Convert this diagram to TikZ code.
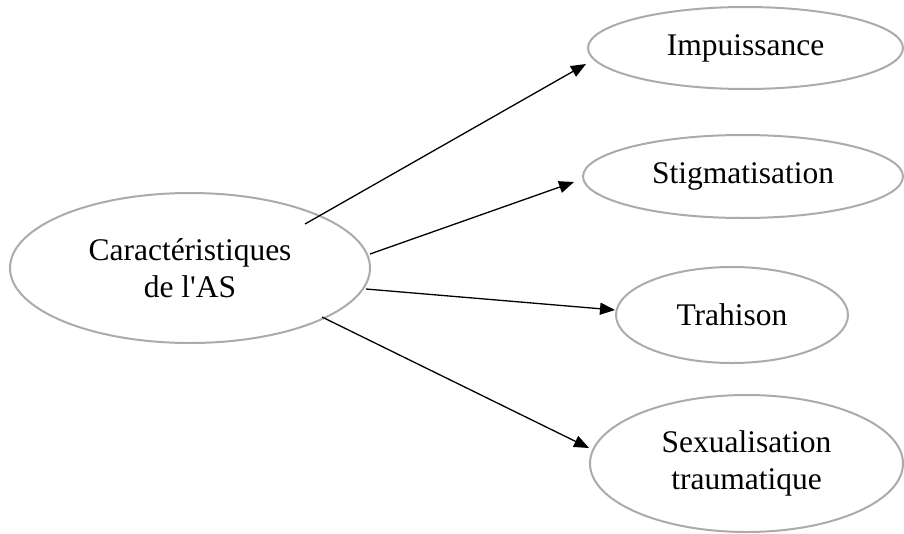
\documentclass[tikz,border=0pt]{standalone}
\usepackage{fontspec}
\setmainfont{Liberation Serif}
\usetikzlibrary{shapes.geometric,arrows.meta,calc}
\tikzset{
  oval/.style={ellipse, draw=black!33, line width=2pt, inner sep=0pt, align=center, font=\fontsize{31.5}{36.5}\selectfont},
  arr/.style={line width=1.3pt, -{Triangle[length=15pt,width=12pt]}}
}
\begin{document}
\begin{tikzpicture}[x=1pt,y=-1pt]
\useasboundingbox (0,0) rectangle (904,533);
\node[oval, minimum width=360pt, minimum height=150pt] (c) at (190,268) {Caractéristiques\\de l\textquotesingle AS};
\node[oval, minimum width=315pt, minimum height=82pt] (imp) at (745.5,48) {Impuissance};
\node[oval, minimum width=320pt, minimum height=83pt] (stig) at (743,176.5) {Stigmatisation};
\node[oval, minimum width=232pt, minimum height=96pt] (tra) at (732,315) {Trahison};
\node[oval, minimum width=313pt, minimum height=137pt] (sex) at (746.5,463.5) {Sexualisation\\traumatique};
\coordinate (s1) at ($(c.center)+(115,-44)$);
\coordinate (s2) at ($(c.center)+(180,-14)$);
\coordinate (s3) at ($(c.center)+(176,21)$);
\coordinate (s4) at ($(c.center)+(132,49)$);
\coordinate (e1) at ($(imp.west)+(-1,16)$);
\coordinate (e2) at ($(stig.west)+(-8,5.5)$);
\coordinate (e3) at ($(tra.west)+(0,-5)$);
\coordinate (e4) at ($(sex.west)+(0,-15.5)$);
\draw[arr] (s1) -- (e1);
\draw[arr] (s2) -- (e2);
\draw[arr] (s3) -- (e3);
\draw[arr] (s4) -- (e4);
\end{tikzpicture}
\end{document}
